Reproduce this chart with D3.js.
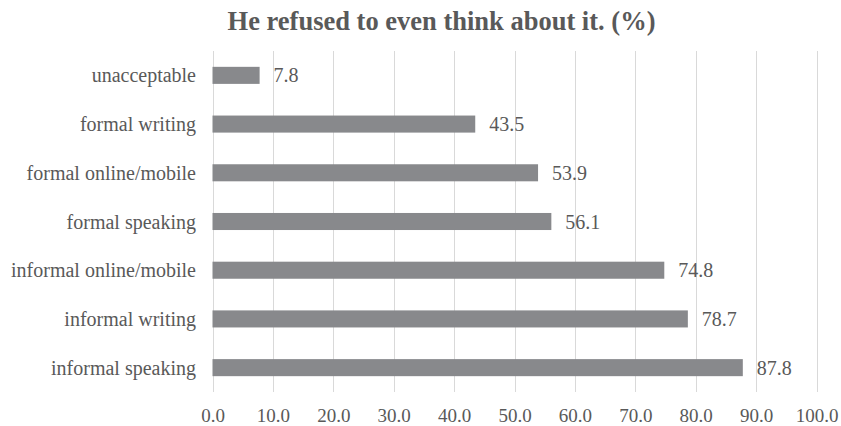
<!DOCTYPE html>
<html>
<head>
<meta charset="utf-8">
<script src="https://cdn.jsdelivr.net/npm/d3@7"></script>
<style>
  html, body { margin: 0; padding: 0; background: #ffffff; }
  svg { display: block; }
  text { font-family: "Liberation Serif", "Times New Roman", serif; }
</style>
</head>
<body>
<svg id="chart" width="841" height="426"></svg>
<script>
// Share of respondents who accept the sentence, per context
const categories = [
  "unacceptable",
  "formal writing",
  "formal online/mobile",
  "formal speaking",
  "informal online/mobile",
  "informal writing",
  "informal speaking"
];
const values = [7.8, 43.5, 53.9, 56.1, 74.8, 78.7, 87.8];
const xTicks = [0, 10, 20, 30, 40, 50, 60, 70, 80, 90, 100];
const title = "He refused to even think about it. (%)";

const svg = d3.select("#chart");
const plot = { left: 212.5, right: 816.5, top: 51, bottom: 392 };

const x = d3.scaleLinear().domain([0, 100]).range([plot.left, plot.right]);
const y = d3.scaleBand().domain(categories).range([plot.top, plot.bottom]).paddingInner(0.65).paddingOuter(0.325);

const textColor = "#595959";
const serif = "\"Liberation Serif\", \"Times New Roman\", serif";

// Title
svg.append("text")
  .attr("x", 441.5)
  .attr("y", 29.5)
  .attr("text-anchor", "middle")
  .attr("font-size", 26.5)
  .attr("font-weight", "bold")
  .attr("fill", textColor)
  .text(title);

// Vertical gridlines
svg.append("g")
  .selectAll("line")
  .data(xTicks)
  .join("line")
  .attr("x1", d => Math.round(x(d)) + 0.5)
  .attr("x2", d => Math.round(x(d)) + 0.5)
  .attr("y1", plot.top)
  .attr("y2", plot.bottom)
  .attr("stroke", "#d9d9d9")
  .attr("stroke-width", 1);

// X axis tick labels
const xAxis = d3.axisBottom(x).tickValues(xTicks).tickFormat(d3.format(".1f")).tickSize(0).tickPadding(0);
const gx = svg.append("g")
  .attr("transform", `translate(0,${plot.bottom})`)
  .call(xAxis);
gx.select(".domain").remove();
gx.selectAll("text")
  .attr("y", 30)
  .attr("dy", 0)
  .attr("font-size", 19)
  .attr("font-family", serif)
  .attr("fill", textColor);

// Category labels
const yAxis = d3.axisLeft(y).tickSize(0).tickPadding(0);
const gy = svg.append("g")
  .attr("transform", `translate(196,0)`)
  .call(yAxis);
gy.select(".domain").remove();
gy.selectAll("text")
  .attr("dy", "0.35em")
  .attr("font-size", 20)
  .attr("font-family", serif)
  .attr("fill", textColor);

// Bars
svg.append("g")
  .selectAll("rect")
  .data(values)
  .join("rect")
  .attr("x", x(0))
  .attr("y", (d, i) => y(categories[i]))
  .attr("width", d => x(d) - x(0))
  .attr("height", y.bandwidth())
  .attr("fill", "#88898c");

// Value labels
svg.append("g")
  .selectAll("text")
  .data(values)
  .join("text")
  .attr("x", d => x(d) + 14)
  .attr("y", (d, i) => y(categories[i]) + y.bandwidth() / 2)
  .attr("dy", "0.35em")
  .attr("font-size", 20)
  .attr("fill", textColor)
  .text(d => d.toFixed(1));
</script>
</body>
</html>
